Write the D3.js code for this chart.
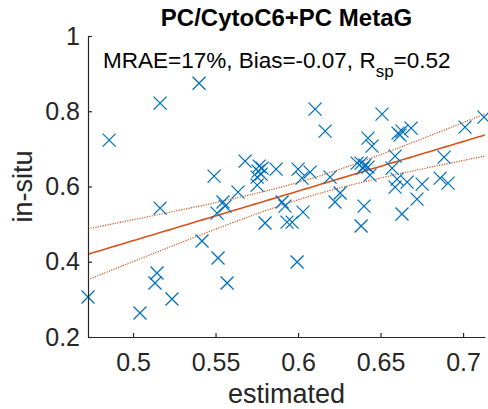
<!DOCTYPE html>
<html>
<head>
  <meta charset="utf-8">
  <title>PC/CytoC6+PC MetaG</title>
  <script src="https://d3js.org/d3.v7.min.js"></script>
  <style>
    body { margin: 0; background: #fff; }
    svg { display: block; font-family: "Liberation Sans", Arial, sans-serif; }
  </style>
</head>
<body>
<svg width="488" height="409"></svg>
<script>
  // values
  var estimated = [0.4727, 0.4855, 0.5042, 0.5133, 0.5145, 0.5164, 0.5164, 0.5236, 0.5400, 0.5418,
    0.5491, 0.5509, 0.5515, 0.5545, 0.5558, 0.5570, 0.5636, 0.5679, 0.5752, 0.5764,
    0.5782, 0.5758, 0.5776, 0.5752, 0.5800, 0.5867, 0.5903, 0.5921, 0.5933, 0.5964,
    0.5994, 0.6000, 0.6024, 0.6030, 0.6073, 0.6103, 0.6164, 0.6194, 0.6224, 0.6255,
    0.6358, 0.6382, 0.6406, 0.6424, 0.6394, 0.6382, 0.6400, 0.6424, 0.6448, 0.6436,
    0.6509, 0.6570, 0.6588, 0.6600, 0.6588, 0.6661, 0.6606, 0.6630, 0.6618, 0.6685,
    0.6630, 0.6721, 0.6752, 0.6861, 0.6909, 0.6885, 0.7012, 0.7127];
  var insitu = [0.3062, 0.7232, 0.2637, 0.3434, 0.3700, 0.8215, 0.5426, 0.3009, 0.8746, 0.4550,
    0.6276, 0.5293, 0.4098, 0.5586, 0.5479, 0.3434, 0.5851, 0.6675, 0.6037, 0.6542,
    0.6489, 0.6409, 0.6329, 0.6250, 0.5028, 0.6462, 0.5586, 0.5479, 0.5054, 0.5054,
    0.3992, 0.6462, 0.6223, 0.5320, 0.6382, 0.8056, 0.7471, 0.6250, 0.5586, 0.5825,
    0.6622, 0.6622, 0.6568, 0.6515, 0.6489, 0.4948, 0.5479, 0.7286, 0.7073, 0.6303,
    0.7923, 0.6489, 0.6807, 0.6197, 0.5984, 0.6117, 0.7418, 0.7471, 0.7365, 0.7551,
    0.5267, 0.5665, 0.6064, 0.6223, 0.6090, 0.6781, 0.7578, 0.7843];

  // fitted line and its confidence band
  var fitX = [0.4727, 0.7133];
  var fitY = [0.420, 0.737];
  var bandCenter = 0.6062;     // x where the band is narrowest
  var bandMin = 0.0229;        // half width there
  var bandCurve = 0.228;       // growth of squared half width with (x - center)^2

  var xTicks = [0.5, 0.55, 0.6, 0.65, 0.7];
  var yTicks = [0.2, 0.4, 0.6, 0.8, 1];
  var xRange = [0.4727, 0.7133];
  var yRange = [0.2, 1];
  var statsText = { mrae: "17%", bias: "-0.07", rsp: "0.52" };

  var svg = d3.select("svg");
  var pLeft = 88, pRight = 485, pTop = 36, pBottom = 337;

  var x = d3.scaleLinear().domain(xRange).range([pLeft, pRight]);
  var y = d3.scaleLinear().domain(yRange).range([pBottom, pTop]);

  var axisColor = "#262626";
  var blue = "#0072BD", orange = "#D95319";

  var fit = d3.scaleLinear().domain(fitX).range(fitY);
  function half(v) { return Math.sqrt(bandMin * bandMin + bandCurve * (v - bandCenter) * (v - bandCenter)); }
  var fx = d3.range(0, 101).map(function(i) { return xRange[0] + (xRange[1] - xRange[0]) * i / 100; });

  svg.append("clipPath").attr("id", "plot")
    .append("rect").attr("x", pLeft).attr("y", pTop).attr("width", pRight - pLeft).attr("height", pBottom - pTop);

  var lines = svg.append("g").attr("clip-path", "url(#plot)");
  var line = d3.line().x(function(d) { return x(d[0]); }).y(function(d) { return y(d[1]); });

  lines.append("path")
    .attr("d", line(fx.map(function(v) { return [v, fit(v) + half(v)]; })))
    .attr("fill", "none").attr("stroke", orange).attr("stroke-width", 1.2).attr("stroke-dasharray", "1.2,1.3");
  lines.append("path")
    .attr("d", line(fx.map(function(v) { return [v, fit(v) - half(v)]; })))
    .attr("fill", "none").attr("stroke", orange).attr("stroke-width", 1.2).attr("stroke-dasharray", "1.2,1.3");
  lines.append("path")
    .attr("d", line(fx.map(function(v) { return [v, fit(v)]; })))
    .attr("fill", "none").attr("stroke", orange).attr("stroke-width", 1.6);

  // x markers
  var m = 6.5;
  svg.append("g").selectAll("path")
    .data(estimated)
    .enter()
    .append("path")
    .attr("d", function(d, i) {
      var cx = x(d), cy = y(insitu[i]);
      return "M" + (cx - m) + "," + (cy - m) + "L" + (cx + m) + "," + (cy + m) +
             "M" + (cx - m) + "," + (cy + m) + "L" + (cx + m) + "," + (cy - m);
    })
    .attr("stroke", blue).attr("stroke-width", 1.3).attr("fill", "none");

  // axes
  var xAxis = svg.append("g").attr("transform", "translate(0," + pBottom + ")")
    .call(d3.axisBottom(x).tickValues(xTicks).tickFormat(d3.format("~g"))
      .tickSize(-4).tickSizeOuter(0).tickPadding(16));
  var yAxis = svg.append("g").attr("transform", "translate(" + pLeft + ",0)")
    .call(d3.axisLeft(y).tickValues(yTicks).tickFormat(d3.format("~g"))
      .tickSize(-4).tickSizeOuter(0).tickPadding(8));

  [xAxis, yAxis].forEach(function(g) {
    g.select(".domain").attr("stroke", axisColor).attr("stroke-width", 1.2);
    g.selectAll(".tick line").attr("stroke", axisColor).attr("stroke-width", 1.2);
    g.selectAll(".tick text").attr("fill", axisColor).style("font-size", "25px")
      .style("font-family", "'Liberation Sans', Arial, sans-serif");
  });

  // title and labels
  svg.append("text").attr("x", (pLeft + pRight) / 2).attr("y", 26)
    .attr("text-anchor", "middle").attr("fill", "#000")
    .style("font-size", "24px").style("font-weight", "bold")
    .text("PC/CytoC6+PC MetaG");

  var ann = svg.append("text").attr("x", 103).attr("y", 68)
    .attr("fill", "#000").style("font-size", "22.5px");
  ann.append("tspan").text("MRAE=" + statsText.mrae + ", Bias=" + statsText.bias + ", R");
  ann.append("tspan").attr("dy", 9).style("font-size", "17px").text("sp");
  ann.append("tspan").attr("dy", -9).text("=" + statsText.rsp);

  svg.append("text").attr("transform", "translate(32," + ((pTop + pBottom) / 2) + ") rotate(-90)")
    .attr("text-anchor", "middle").attr("fill", axisColor).style("font-size", "27px")
    .text("in-situ");

  svg.append("text").attr("x", (pLeft + pRight) / 2).attr("y", 403)
    .attr("text-anchor", "middle").attr("fill", axisColor).style("font-size", "27px")
    .text("estimated");
</script>
</body>
</html>
